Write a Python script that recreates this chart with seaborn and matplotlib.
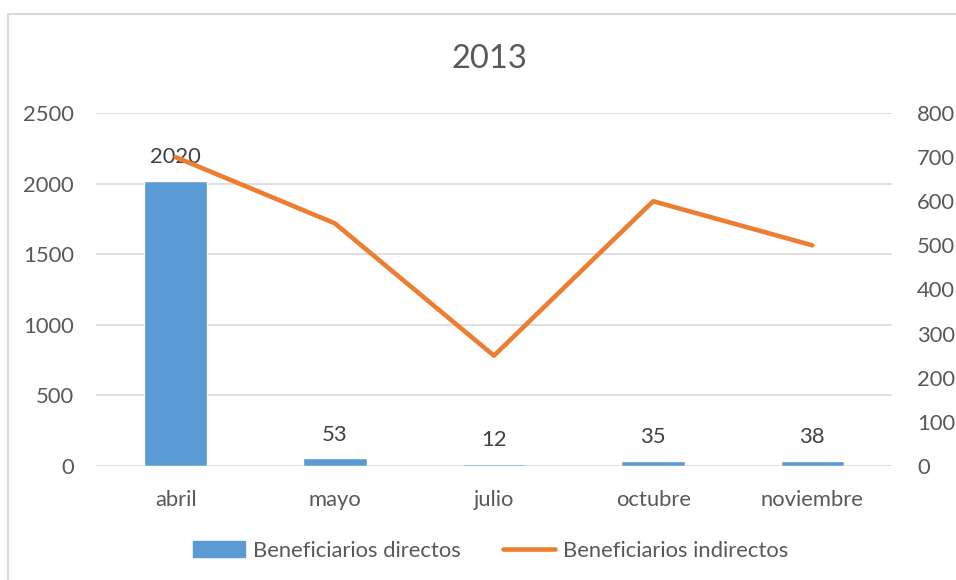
import matplotlib
matplotlib.use("Agg")
import matplotlib.pyplot as plt
import seaborn as sns
from matplotlib.patches import Rectangle
from matplotlib.lines import Line2D

# data
meses = ["abril", "mayo", "julio", "octubre", "noviembre"]
directos = [2020, 53, 12, 35, 38]
indirectos = [700, 550, 250, 600, 500]
titulo = "2013"

AZUL = "#5b9bd5"
NARANJA = "#ed7d31"
GRIS_TXT = "#595959"
GRIS_LIN = "#d9d9d9"
FS = 15.8

sns.set_style("white")
plt.rcParams["font.family"] = ["Lato", "DejaVu Sans"]

fig = plt.figure(figsize=(9.56, 5.8), dpi=100)
ax = fig.add_axes([0.1004, 0.1966, 0.8326, 0.6086])

sns.barplot(x=meses, y=directos, color=AZUL, width=0.4, saturation=1, ax=ax, zorder=2)
ax.set_ylim(0, 2500)
ax.set_yticks(range(0, 2501, 500))
ax.set_xlim(-0.5, 4.5)
ax.grid(axis="y", color=GRIS_LIN, lw=1.2, zorder=0)
ax.set_axisbelow(True)
for s in ax.spines.values():
    s.set_visible(False)
ax.tick_params(axis="y", length=0, pad=16, labelsize=FS, labelcolor=GRIS_TXT)
ax.tick_params(axis="x", length=0, pad=17, labelsize=FS, labelcolor=GRIS_TXT)
ax.set_xlabel("")
ax.set_ylabel("")

# data labels on the bars
for i, v in enumerate(directos):
    ax.annotate(str(v), (i, v), xytext=(0, 10), textcoords="offset points",
                ha="center", va="bottom", fontsize=FS, color="#404040", zorder=5)

ax2 = ax.twinx()
sns.lineplot(x=meses, y=indirectos, color=NARANJA, lw=3.3, sort=False, ax=ax2, zorder=3)
ax2.set_ylim(0, 800)
ax2.set_yticks(range(0, 801, 100))
ax2.set_xlim(-0.5, 4.5)
for s in ax2.spines.values():
    s.set_visible(False)
ax2.tick_params(axis="y", length=0, pad=18, labelsize=FS, labelcolor=GRIS_TXT)
ax2.set_ylabel("")
ax2.grid(False)

fig.text(0.512, 0.898, titulo, ha="center", va="center", fontsize=23.5, color=GRIS_TXT)

handles = [Rectangle((0, 0), 1, 1, color=AZUL),
           Line2D([0], [0], color=NARANJA, lw=3.3, solid_capstyle="round")]
fig.legend(handles, ["Beneficiarios directos", "Beneficiarios indirectos"],
           loc="center", bbox_to_anchor=(0.513, 0.05), ncol=2, frameon=False,
           fontsize=FS, labelcolor=GRIS_TXT, handlelength=2.4, handleheight=0.75,
           handletextpad=0.35, columnspacing=1.9)

# chart border (Excel-style frame)
fig.patches.append(Rectangle((8 / 956, -0.05), 1.05, (580 - 14) / 580 + 0.05,
                             transform=fig.transFigure, fill=False,
                             edgecolor=GRIS_LIN, lw=1.5))

fig.savefig("out.png", dpi=100)
